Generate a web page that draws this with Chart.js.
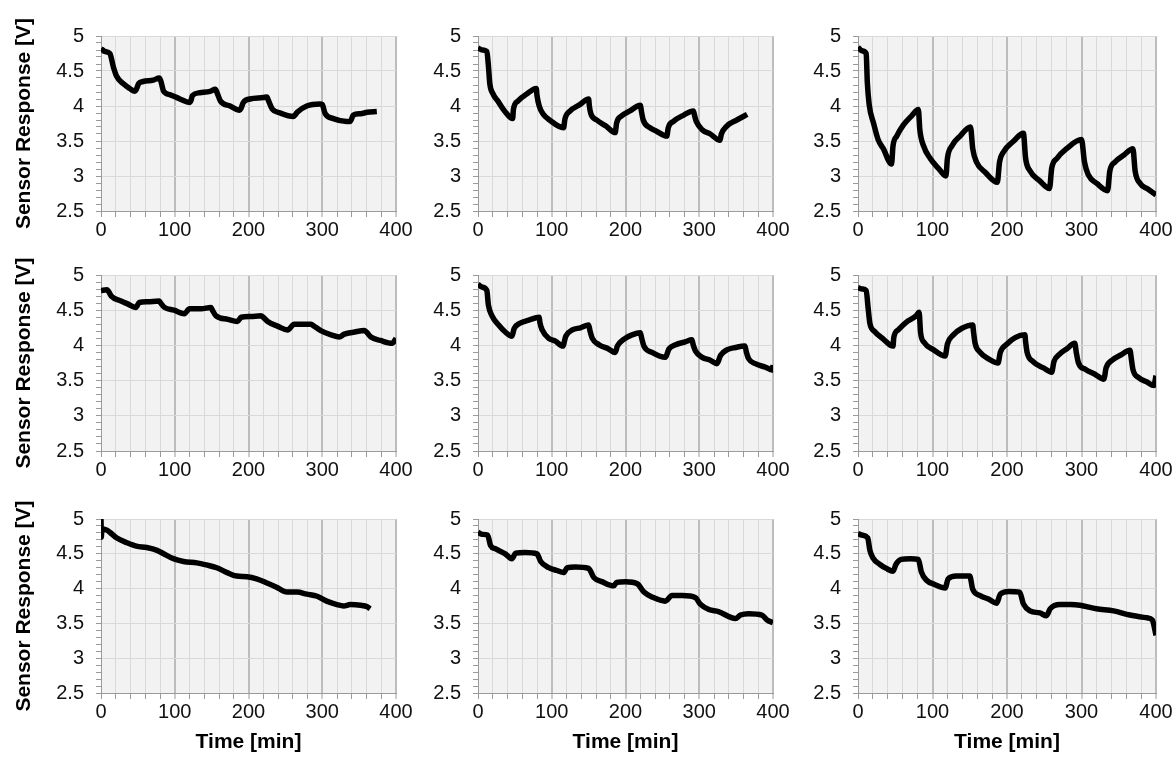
<!DOCTYPE html>
<html>
<head>
<meta charset="utf-8">
<script src="https://cdn.jsdelivr.net/npm/chart.js@4.4.1/dist/chart.umd.min.js"></script>
<style>
  body { margin: 0; background: #fff; }
  #wrap { position: relative; width: 1172px; height: 760px; overflow: hidden; }
  #wrap canvas { position: absolute; }
</style>
</head>
<body>
<div id="wrap"></div>
<script>
// axis text
const yTitle = 'Sensor Response [V]';
const xTitle = 'Time [min]';
const xTickLabels = ['0', '100', '200', '300', '400'];
const yTickLabels = ['2.5', '3', '3.5', '4', '4.5', '5'];

// row 1
const time_r1c1 = [0, 5, 12, 17, 21, 30, 39, 46, 48, 51, 57, 71, 79, 81, 85, 94, 107, 120, 122, 124, 134, 148, 155, 157, 162, 175, 188, 190, 193, 202, 220, 225, 227, 232, 243, 261, 263, 266, 279, 297, 300, 304, 315, 333, 338, 342, 352, 361, 374];
const resp_r1c1 = [4.82, 4.78, 4.75, 4.55, 4.43, 4.32, 4.25, 4.21, 4.24, 4.32, 4.35, 4.37, 4.40, 4.36, 4.21, 4.16, 4.10, 4.05, 4.08, 4.15, 4.19, 4.21, 4.24, 4.20, 4.07, 4.00, 3.94, 3.97, 4.05, 4.10, 4.12, 4.13, 4.08, 3.96, 3.90, 3.85, 3.87, 3.91, 4.00, 4.03, 4.02, 3.89, 3.82, 3.78, 3.78, 3.87, 3.89, 3.91, 3.92];

const time_r1c2 = [0, 6, 12, 14, 16, 20, 27, 36, 47, 48, 54, 66, 79, 80, 83, 88, 97, 116, 118, 125, 138, 150, 151, 153, 161, 174, 186, 188, 195, 206, 220, 222, 224, 233, 242, 256, 258, 265, 279, 292, 294, 296, 304, 315, 328, 330, 337, 351, 365];
const resp_r1c2 = [4.83, 4.80, 4.78, 4.59, 4.32, 4.18, 4.07, 3.93, 3.82, 3.95, 4.07, 4.17, 4.25, 4.15, 4.00, 3.89, 3.80, 3.69, 3.82, 3.93, 4.02, 4.10, 4.00, 3.89, 3.80, 3.71, 3.62, 3.76, 3.86, 3.93, 4.01, 3.90, 3.80, 3.69, 3.64, 3.57, 3.69, 3.78, 3.87, 3.93, 3.85, 3.78, 3.66, 3.60, 3.51, 3.60, 3.71, 3.80, 3.88];

const time_r1c3 = [0, 5, 11, 12.5, 15, 21, 27, 34, 45, 47, 52, 61, 72, 81, 83, 88, 97, 108, 118, 120, 126, 137, 151, 154, 159, 171, 187, 190, 195, 209, 222, 225, 231, 244, 257, 260, 267, 280, 300, 304, 309, 321, 335, 338, 345, 357, 369, 372, 379, 388, 400];
const resp_r1c3 = [4.84, 4.79, 4.75, 4.34, 4.02, 3.75, 3.52, 3.39, 3.17, 3.43, 3.57, 3.73, 3.86, 3.95, 3.66, 3.43, 3.25, 3.11, 3.00, 3.25, 3.43, 3.57, 3.70, 3.39, 3.20, 3.05, 2.91, 3.20, 3.34, 3.50, 3.61, 3.25, 3.07, 2.93, 2.82, 3.11, 3.25, 3.39, 3.52, 3.20, 3.02, 2.89, 2.79, 3.07, 3.20, 3.30, 3.39, 3.07, 2.89, 2.82, 2.73];

// row 2
const time_r2c1 = [0, 8, 10, 14, 27, 36, 47, 52, 63, 79, 81, 86, 99, 113, 120, 136, 149, 151, 156, 172, 185, 190, 203, 217, 220, 226, 240, 253, 262, 285, 288, 298, 312, 323, 330, 344, 357, 360, 366, 379, 395, 400];
const resp_r2c1 = [4.78, 4.79, 4.77, 4.70, 4.63, 4.59, 4.54, 4.61, 4.62, 4.63, 4.60, 4.54, 4.50, 4.45, 4.52, 4.52, 4.54, 4.50, 4.42, 4.37, 4.34, 4.40, 4.41, 4.42, 4.40, 4.34, 4.27, 4.22, 4.30, 4.30, 4.28, 4.21, 4.15, 4.12, 4.16, 4.19, 4.21, 4.19, 4.12, 4.07, 4.03, 4.10];

const time_r2c2 = [0, 5, 12, 14, 19, 28, 37, 46, 49, 56, 69, 83, 84, 87, 96, 105, 115, 119, 128, 139, 150, 152, 155, 164, 177, 186, 189, 198, 209, 220, 222, 225, 236, 254, 259, 268, 281, 290, 292, 295, 304, 315, 324, 329, 338, 349, 362, 364, 367, 376, 390, 399, 400];
const resp_r2c2 = [4.87, 4.83, 4.78, 4.58, 4.42, 4.29, 4.19, 4.13, 4.24, 4.31, 4.36, 4.40, 4.32, 4.22, 4.10, 4.06, 3.99, 4.13, 4.22, 4.25, 4.29, 4.20, 4.10, 4.01, 3.95, 3.90, 3.99, 4.09, 4.15, 4.18, 4.10, 3.99, 3.90, 3.83, 3.95, 4.01, 4.05, 4.08, 4.00, 3.92, 3.83, 3.79, 3.74, 3.86, 3.94, 3.97, 3.99, 3.90, 3.81, 3.74, 3.69, 3.65, 3.72];

const time_r2c3 = [0, 6, 11, 13.5, 16, 22, 34, 47, 48, 54, 65, 78, 82, 84, 89, 101, 117, 120, 128, 139, 154, 155, 157, 164, 175, 188, 191, 200, 211, 224, 225, 227, 235, 249, 260, 263, 271, 280, 291, 293, 296, 305, 318, 330, 333, 341, 352, 365, 367, 369, 377, 388, 397, 400];
const resp_r2c3 = [4.82, 4.80, 4.78, 4.54, 4.31, 4.20, 4.09, 3.99, 4.11, 4.22, 4.33, 4.42, 4.47, 4.18, 4.04, 3.94, 3.85, 4.02, 4.15, 4.24, 4.29, 4.20, 4.04, 3.90, 3.81, 3.75, 3.90, 4.02, 4.11, 4.15, 4.05, 3.90, 3.77, 3.68, 3.62, 3.77, 3.88, 3.95, 4.03, 3.90, 3.75, 3.66, 3.59, 3.52, 3.68, 3.79, 3.86, 3.93, 3.80, 3.66, 3.54, 3.48, 3.43, 3.57];

// row 3
const time_r3c1 = [0, 0.4, 1.2, 8, 12, 21, 35, 48, 62, 76, 85, 98, 112, 130, 143, 157, 171, 184, 198, 211, 225, 238, 252, 266, 279, 293, 306, 320, 329, 338, 352, 361, 365];
const resp_r3c1 = [5.00, 4.74, 4.86, 4.84, 4.81, 4.73, 4.66, 4.61, 4.59, 4.55, 4.50, 4.43, 4.39, 4.37, 4.34, 4.30, 4.23, 4.18, 4.17, 4.14, 4.08, 4.02, 3.95, 3.95, 3.92, 3.89, 3.82, 3.77, 3.75, 3.77, 3.76, 3.74, 3.71];

const time_r3c2 = [0, 5, 13, 17, 24, 37, 46, 51, 64, 80, 85, 96, 107, 116, 121, 132, 150, 157, 168, 184, 188, 200, 216, 225, 236, 254, 263, 277, 295, 301, 313, 326, 349, 356, 367, 385, 392, 400];
const resp_r3c2 = [4.81, 4.78, 4.77, 4.62, 4.57, 4.50, 4.43, 4.51, 4.52, 4.50, 4.39, 4.30, 4.26, 4.23, 4.30, 4.31, 4.29, 4.16, 4.10, 4.04, 4.09, 4.10, 4.07, 3.95, 3.88, 3.82, 3.90, 3.90, 3.87, 3.78, 3.70, 3.67, 3.57, 3.62, 3.64, 3.62, 3.55, 3.51];

const time_r3c3 = [0, 5, 13, 16, 20, 29, 38, 47, 51, 58, 70, 81, 85, 92, 103, 117, 121, 132, 150, 154, 164, 175, 186, 191, 202, 217, 222, 231, 244, 253, 258, 271, 285, 298, 320, 343, 365, 388, 395, 400];
const resp_r3c3 = [4.79, 4.77, 4.73, 4.55, 4.44, 4.35, 4.29, 4.25, 4.35, 4.42, 4.43, 4.42, 4.24, 4.12, 4.06, 4.01, 4.14, 4.18, 4.18, 3.99, 3.90, 3.85, 3.79, 3.92, 3.96, 3.95, 3.78, 3.68, 3.65, 3.61, 3.71, 3.77, 3.77, 3.76, 3.71, 3.68, 3.62, 3.58, 3.55, 3.33];

const panels = [
  [time_r1c1, resp_r1c1], [time_r1c2, resp_r1c2], [time_r1c3, resp_r1c3],
  [time_r2c1, resp_r2c1], [time_r2c2, resp_r2c2], [time_r2c3, resp_r2c3],
  [time_r3c1, resp_r3c1], [time_r3c2, resp_r3c2], [time_r3c3, resp_r3c3],
];

// where each plot area sits on the page
const colLeft = [101, 478, 858];
const colWidth = [295, 295, 298];
const rowTop = [27, 266, 510];
const rowHeight = [184, 185, 183];
const Y_AXIS_W = 100;
const TOP_PAD = 15;
const RIGHT_PAD = 22;

const FONT = "'Liberation Sans', Arial, Helvetica, sans-serif";

const plotBg = {
  id: 'plotBg',
  beforeDraw(chart) {
    const { ctx, chartArea: a } = chart;
    ctx.save();
    ctx.fillStyle = '#f2f2f2';
    ctx.fillRect(a.left, a.top, a.width, a.height);
    ctx.restore();
  }
};

const label = (v) => String(Math.round(v * 10) / 10);

const wrap = document.getElementById('wrap');

panels.forEach(([times, values], i) => {
  const row = Math.floor(i / 3);
  const col = i % 3;
  const lastRow = row === 2;
  const xAxisH = lastRow ? 62 : 40;

  const canvas = document.createElement('canvas');
  const w = Y_AXIS_W + colWidth[col] + RIGHT_PAD;
  const h = TOP_PAD + rowHeight[row] + xAxisH;
  canvas.width = w;
  canvas.height = h;
  canvas.style.width = w + 'px';
  canvas.style.height = h + 'px';
  canvas.style.left = (colLeft[col] - Y_AXIS_W) + 'px';
  canvas.style.top = (rowTop[row] - TOP_PAD) + 'px';
  wrap.appendChild(canvas);

  new Chart(canvas, {
    type: 'line',
    data: {
      datasets: [{
        data: times.map((t, k) => ({ x: t, y: values[k] })),
        borderColor: '#000',
        borderWidth: 5.5,
        pointRadius: 0,
        cubicInterpolationMode: 'monotone',
        fill: false,
      }]
    },
    options: {
      responsive: false,
      animation: false,
      devicePixelRatio: 1,
      layout: { padding: { top: TOP_PAD, right: RIGHT_PAD, left: 0, bottom: 0 } },
      plugins: { legend: { display: false }, tooltip: { enabled: false } },
      scales: {
        x: {
          type: 'linear',
          min: 0,
          max: 400,
          afterFit: (s) => { s.height = xAxisH; },
          ticks: {
            stepSize: 20,
            autoSkip: false,
            maxRotation: 0,
            padding: 1,
            color: '#111',
            font: { family: FONT, size: 20 },
            callback: (v) => xTickLabels.includes(String(v)) ? String(v) : '',
          },
          grid: {
            color: (c) => (c.tick && c.tick.value % 100 === 0) ? '#bdbdbd' : '#d9d9d9',
            lineWidth: (c) => (c.tick && c.tick.value % 100 === 0 && c.tick.value !== 0) ? 2 : 1,
            tickColor: '#9a9a9a',
            tickLength: 6,
            tickWidth: 1,
          },
          border: { color: '#9a9a9a', width: 1 },
          title: {
            display: lastRow,
            text: xTitle,
            color: '#000',
            font: { family: FONT, size: 21, weight: 'bold' },
            padding: { top: 0, bottom: 0 },
          },
        },
        y: {
          type: 'linear',
          min: 2.5,
          max: 5,
          afterFit: (s) => { s.width = Y_AXIS_W; },
          ticks: {
            stepSize: 0.1,
            autoSkip: false,
            padding: 12,
            color: '#111',
            font: { family: FONT, size: 20 },
            callback: (v) => yTickLabels.includes(label(v)) ? label(v) : '',
          },
          grid: {
            color: (c) => (c.tick && yTickLabels.includes(label(c.tick.value))) ? '#d9d9d9' : 'rgba(0,0,0,0)',
            tickColor: '#9a9a9a',
            tickLength: 5,
            tickWidth: 1,
          },
          border: { color: '#9a9a9a', width: 1 },
          title: {
            display: col === 0,
            text: yTitle,
            color: '#000',
            font: { family: FONT, size: 21, weight: 'bold' },
            padding: { top: 11, bottom: 0 },
          },
        },
      },
    },
    plugins: [plotBg],
  });
});
</script>
</body>
</html>
